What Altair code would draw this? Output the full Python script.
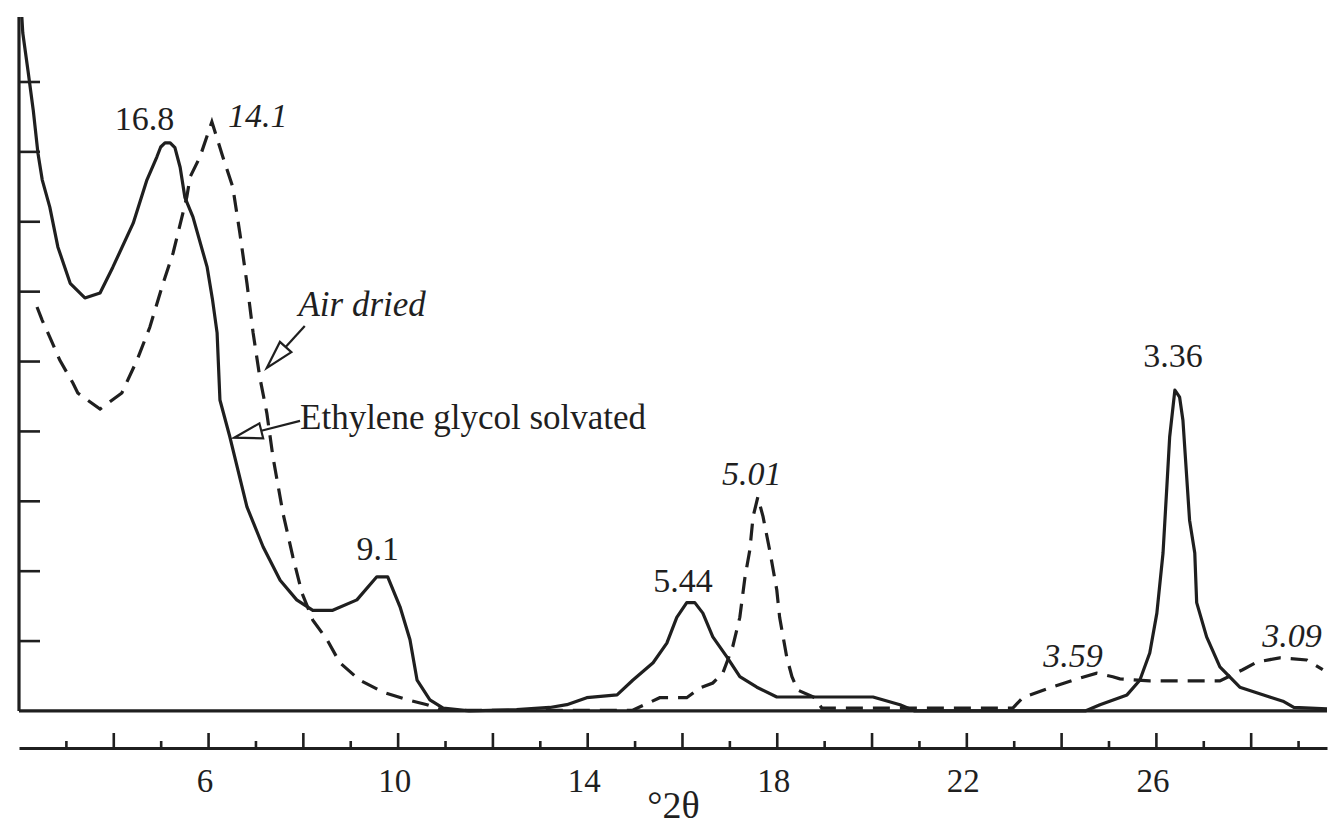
import math
import altair as alt
import pandas as pd

# ---------------- data ----------------
# Ethylene glycol solvated (solid line): x = degrees 2-theta, y = intensity (tick units)
eg_x = [2.06, 2.08, 2.19, 2.30, 2.40, 2.49, 2.65, 2.82, 3.08, 3.39, 3.71, 3.98, 4.41, 4.70,
        4.91, 4.99, 5.08, 5.19, 5.29, 5.40, 5.50, 5.67, 5.97, 6.08, 6.18, 6.24, 6.45, 6.81,
        7.15, 7.51, 7.86, 8.20, 8.62, 9.13, 9.55, 9.78, 10.04, 10.25, 10.40, 10.67, 10.95,
        11.5, 12.5, 13.2, 13.56, 13.98, 14.62, 14.95, 15.38, 15.67, 15.88, 16.09, 16.26,
        16.43, 16.64, 16.94, 17.21, 17.57, 17.99, 20.02, 20.59, 20.90, 24.50, 24.81, 25.38,
        25.65, 25.86, 26.01, 26.14, 26.22, 26.28, 26.39, 26.49, 26.56, 26.70, 26.81, 26.85,
        27.06, 27.34, 27.76, 28.39, 28.67, 28.90, 29.60]
eg_y = [9.93, 9.70, 9.16, 8.60, 7.98, 7.60, 7.21, 6.64, 6.12, 5.91, 5.98, 6.35, 6.98, 7.60,
        7.93, 8.07, 8.13, 8.13, 8.06, 7.78, 7.35, 7.07, 6.35, 5.90, 5.41, 4.45, 3.92, 2.92,
        2.35, 1.87, 1.59, 1.44, 1.44, 1.59, 1.92, 1.92, 1.49, 1.02, 0.44, 0.16, 0.04,
        0.00, 0.02, 0.05, 0.09, 0.19, 0.23, 0.44, 0.69, 0.97, 1.34, 1.55, 1.55,
        1.40, 1.06, 0.77, 0.49, 0.34, 0.20, 0.20, 0.09, 0.00, 0.00, 0.09, 0.23,
        0.44, 0.83, 1.40, 2.26, 3.20, 3.92, 4.59, 4.49, 4.16, 2.73, 2.26, 1.55,
        1.06, 0.63, 0.34, 0.20, 0.14, 0.05, 0.03]

# Air dried (dashed line)
ad_x = [2.38, 2.49, 2.65, 2.86, 3.14, 3.24, 3.71, 4.17, 4.49, 4.76, 5.04, 5.25, 5.54, 5.61,
        5.82, 6.07, 6.30, 6.51, 6.66, 6.81, 6.94, 7.08, 7.23, 7.36, 7.57, 7.78, 7.97, 8.20,
        8.50, 8.77, 9.19, 9.68, 10.19, 10.61, 10.95, 14.95, 15.52, 16.09, 16.37, 16.64,
        16.85, 17.06, 17.21, 17.32, 17.42, 17.49, 17.59, 17.70, 17.84, 17.99, 18.05, 18.20,
        18.31, 18.43, 18.79, 18.94, 22.97, 23.18, 23.75, 24.24, 24.74, 25.08, 25.23, 25.86,
        27.34, 27.82, 28.12, 28.60, 29.17, 29.51]
ad_y = [5.78, 5.59, 5.35, 5.02, 4.69, 4.55, 4.32, 4.55, 5.02, 5.49, 6.12, 6.55, 7.35, 7.64,
        7.93, 8.43, 7.93, 7.50, 6.84, 6.12, 5.41, 4.78, 4.26, 3.63, 2.83, 2.20, 1.69, 1.30,
        1.02, 0.69, 0.44, 0.27, 0.16, 0.09, 0.01, 0.01, 0.19, 0.19, 0.33, 0.40,
        0.54, 0.92, 1.34, 1.92, 2.30, 2.78, 3.06, 2.78, 2.30, 1.73, 1.34, 0.77,
        0.49, 0.30, 0.19, 0.04, 0.04, 0.19, 0.33, 0.44, 0.54, 0.49, 0.46, 0.43,
        0.43, 0.59, 0.70, 0.76, 0.73, 0.59]

# peak labels (d-spacings)
eg_label_text = ["16.8", "9.1", "5.44", "3.36"]
eg_label_x = [4.65, 9.57, 16.01, 26.35]
eg_label_y = [8.45, 2.30, 1.85, 5.06]
ad_label_text = ["14.1", "5.01", "3.59", "3.09"]
ad_label_x = [7.04, 17.46, 24.24, 28.86]
ad_label_y = [8.50, 3.38, 0.77, 1.06]

# curve captions with arrows
caption_text = ["Air dried", "Ethylene glycol solvated"]
caption_x = [9.24, 7.93]
caption_y = [5.81, 4.19]
arrow_x0 = [8.03, 7.93]
arrow_y0 = [5.51, 4.15]
arrow_x1 = [7.23, 6.54]
arrow_y1 = [4.91, 3.91]

x_tick_values = list(range(3, 30))
x_label_values = [6, 10, 14, 18, 22, 26]
y_tick_values = list(range(1, 10))

# ---------------- layout / style ----------------
X_MIN, X_MAX = 2.0, 29.6
Y_MIN, Y_MAX = -0.53, 9.93
W, H = 1308, 731
PX_X = W / (X_MAX - X_MIN)
PX_Y = H / (Y_MAX - Y_MIN)
INK = "#1f1f1f"
FONT = "Liberation Serif"
HEAD_LEN = 28
LW = 3.2

xs = alt.Scale(domain=[X_MIN, X_MAX], nice=False, zero=False)
ys = alt.Scale(domain=[Y_MIN, Y_MAX], nice=False, zero=False)

x_axis = alt.Axis(
    values=x_label_values, grid=False, ticks=False, tickSize=0,
    domain=True, domainColor=INK, domainWidth=3,
    labelFont=FONT, labelFontSize=33, labelColor=INK, labelPadding=17, labelOffset=-4,
    title="°2θ", titleFont=FONT, titleFontSize=38, titleFontWeight="normal",
    titleColor=INK, titleBaseline="alphabetic", titleY=69,
)
X = alt.X("x:Q", scale=xs, axis=x_axis)
Y = alt.Y("y:Q", scale=ys, axis=None)

eg_df = pd.DataFrame({"x": eg_x, "y": eg_y})
ad_df = pd.DataFrame({"x": ad_x, "y": ad_y})

solid = alt.Chart(eg_df).mark_line(color=INK, strokeWidth=LW, strokeJoin="round").encode(x=X, y=Y)
dashed = alt.Chart(ad_df).mark_line(color=INK, strokeWidth=LW, strokeDash=[17, 10]).encode(x=X, y=Y)

# frame: baseline, y axis line, ticks
base_df = pd.DataFrame({"x": [X_MIN], "x2": [X_MAX], "y": [0.0]})
baseline = alt.Chart(base_df).mark_rule(color=INK, strokeWidth=3.2).encode(x=X, x2="x2:Q", y=Y)

yline_df = pd.DataFrame({"x": [X_MIN], "y": [0.0], "y2": [Y_MAX]})
yline = alt.Chart(yline_df).mark_rule(color=INK, strokeWidth=3.2).encode(x=X, y=Y, y2="y2:Q")

ytick_df = pd.DataFrame({"x": [X_MIN] * len(y_tick_values),
                         "x2": [X_MIN + 21 / PX_X] * len(y_tick_values),
                         "y": y_tick_values})
yticks = alt.Chart(ytick_df).mark_rule(color=INK, strokeWidth=2.6).encode(x=X, x2="x2:Q", y=Y)

xtick_df = pd.DataFrame({
    "x": x_tick_values,
    "y": [Y_MIN] * len(x_tick_values),
    "y2": [Y_MIN + (15 if v % 2 == 0 else 7) / PX_Y for v in x_tick_values],
})
xticks = alt.Chart(xtick_df).mark_rule(color=INK, strokeWidth=2.6).encode(x=X, y=Y, y2="y2:Q")

# labels
eg_lab = alt.Chart(pd.DataFrame({"x": eg_label_x, "y": eg_label_y, "t": eg_label_text})).mark_text(
    font=FONT, fontSize=34, color=INK, align="center", baseline="middle"
).encode(x=X, y=Y, text="t:N")
ad_lab = alt.Chart(pd.DataFrame({"x": ad_label_x, "y": ad_label_y, "t": ad_label_text})).mark_text(
    font=FONT, fontSize=34, fontStyle="italic", color=INK, align="center", baseline="middle"
).encode(x=X, y=Y, text="t:N")

cap_air = alt.Chart(pd.DataFrame({"x": caption_x[:1], "y": caption_y[:1], "t": caption_text[:1]})).mark_text(
    font=FONT, fontSize=35, fontStyle="italic", color=INK, align="center", baseline="middle"
).encode(x=X, y=Y, text="t:N")
cap_eg = alt.Chart(pd.DataFrame({"x": caption_x[1:], "y": caption_y[1:], "t": caption_text[1:]})).mark_text(
    font=FONT, fontSize=35, color=INK, align="left", baseline="middle"
).encode(x=X, y=Y, text="t:N")

# arrows
rows = []
for x0, y0, x1, y1 in zip(arrow_x0, arrow_y0, arrow_x1, arrow_y1):
    dxp = (x1 - x0) * PX_X
    dyp = -(y1 - y0) * PX_Y
    L = math.hypot(dxp, dyp)
    ux, uy = dxp / L, dyp / L
    ang = math.degrees(math.atan2(ux, -uy)) % 360
    bx = x1 - HEAD_LEN * ux / PX_X
    by = y1 + HEAD_LEN * uy / PX_Y
    rows.append({"x": x0, "y": y0, "x2": bx, "y2": by, "tx": x1, "ty": y1, "ang": ang})
arrow_df = pd.DataFrame(rows)

shafts = alt.Chart(arrow_df).mark_rule(color=INK, strokeWidth=2.2).encode(
    x=X, y=Y, x2="x2:Q", y2="y2:Q")
heads = alt.Chart(arrow_df).mark_point(
    shape="M0,0L0.55,2L-0.55,2Z", filled=False, color=INK, strokeWidth=2.2, size=HEAD_LEN ** 2, opacity=1
).encode(
    x=alt.X("tx:Q", scale=xs, axis=x_axis),
    y=alt.Y("ty:Q", scale=ys, axis=None),
    angle=alt.Angle("ang:Q", scale=None),
)

chart = alt.layer(
    baseline, yline, yticks, xticks, dashed, solid, shafts, heads, eg_lab, ad_lab, cap_air, cap_eg
).properties(
    width=W, height=H,
    autosize=alt.AutoSizeParams(type="none"),
    padding={"left": 19, "top": 17, "right": 3, "bottom": 76},
    background="white",
).configure_view(stroke=None)

chart.save("out.html", embed_options={"renderer": "svg", "actions": False})
